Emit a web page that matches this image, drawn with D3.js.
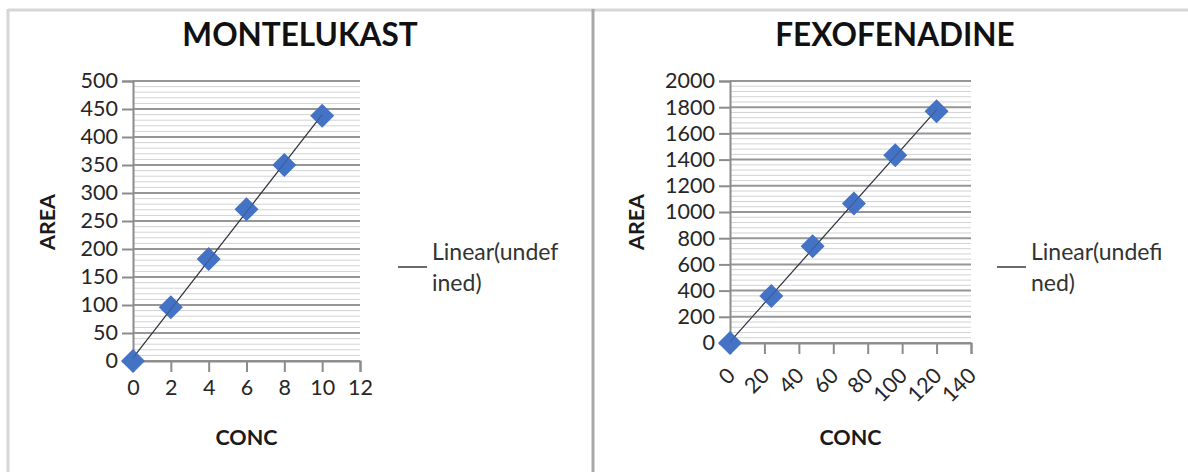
<!DOCTYPE html>
<html><head><meta charset="utf-8">
<script src="https://cdn.jsdelivr.net/npm/d3@7"></script>
<style>
body{margin:0;background:#fff}
svg text{font-family:Lato,"Open Sans","DejaVu Sans",sans-serif}
</style>
</head><body>
<svg id="c" width="1188" height="472"></svg>
<script>
// ---- data ----
const montConc = [0, 2, 4, 6, 8, 10];
const montArea = [0, 96, 182, 271, 350, 438];
const montYTicks = [0, 50, 100, 150, 200, 250, 300, 350, 400, 450, 500];
const montXTicks = [0, 2, 4, 6, 8, 10, 12];

const fexoConc = [0, 24, 48, 72, 96, 120];
const fexoArea = [0, 359, 739, 1065, 1434, 1770];
const fexoYTicks = [0, 200, 400, 600, 800, 1000, 1200, 1400, 1600, 1800, 2000];
const fexoXTicks = [0, 20, 40, 60, 80, 100, 120, 140];

const chartTitles = ["MONTELUKAST", "FEXOFENADINE"];
const legendLabels = [["Linear(undef", "ined)"], ["Linear(undefi", "ned)"]];
const xAxisTitle = "CONC";
const yAxisTitle = "AREA";

// ---- layout ----
const panels = [
  {title: chartTitles[0], xs: montConc, ys: montArea, yTicks: montYTicks, xTicks: montXTicks,
   minor: 10, left: 133, right: 360, top: 81, bottom: 361, titleX: 300, areaX: 48,
   legX: 398, rotate: false, legend: legendLabels[0]},
  {title: chartTitles[1], xs: fexoConc, ys: fexoArea, yTicks: fexoYTicks, xTicks: fexoXTicks,
   minor: 40, left: 730, right: 971, top: 81, bottom: 343, titleX: 895, areaX: 637,
   legX: 997, rotate: true, legend: legendLabels[1]}
];

const svg = d3.select("#c");

// frames
svg.append("line").attr("x1", 8).attr("x2", 1188).attr("y1", 10).attr("y2", 10)
  .attr("stroke", "#d6d6d6").attr("stroke-width", 3);
svg.append("line").attr("x1", 8).attr("x2", 8).attr("y1", 9).attr("y2", 472)
  .attr("stroke", "#d6d6d6").attr("stroke-width", 3);
svg.append("line").attr("x1", 593).attr("x2", 593).attr("y1", 9).attr("y2", 472)
  .attr("stroke", "#a8a8a8").attr("stroke-width", 3);

const diamond = "M0,-12L12,0L0,12L-12,0Z";

panels.forEach(p => {
  const xMax = p.xTicks[p.xTicks.length - 1];
  const yMax = p.yTicks[p.yTicks.length - 1];
  const x = d3.scaleLinear().domain([0, xMax]).range([p.left, p.right]);
  const y = d3.scaleLinear().domain([0, yMax]).range([p.bottom, p.top]);
  const g = svg.append("g");

  // minor gridlines
  const minorTicks = d3.range(0, yMax + 1e-9, p.minor).filter(v => !p.yTicks.includes(v));
  g.append("g").selectAll("line").data(minorTicks).join("line")
    .attr("x1", p.left).attr("x2", p.right)
    .attr("y1", d => y(d)).attr("y2", d => y(d))
    .attr("stroke", "#d2d2d2").attr("stroke-width", 1);

  // major gridlines
  g.append("g").selectAll("line").data(p.yTicks).join("line")
    .attr("x1", p.left).attr("x2", p.right)
    .attr("y1", d => y(d)).attr("y2", d => y(d))
    .attr("stroke", "#969696").attr("stroke-width", 2);

  // y axis
  const ya = g.append("g").attr("transform", `translate(${p.left},0)`)
    .call(d3.axisLeft(y).tickValues(p.yTicks).tickSize(11).tickPadding(4).tickFormat(d3.format("d")));
  ya.select(".domain").attr("stroke", "#8c8c8c").attr("stroke-width", 2);
  ya.selectAll(".tick line").attr("stroke", "#8c8c8c").attr("stroke-width", 2);
  ya.selectAll(".tick text").attr("font-size", 21.5).attr("fill", "#262626")
    .attr("font-family", "Lato, 'Open Sans', sans-serif");

  // x axis
  const xa = g.append("g").attr("transform", `translate(0,${p.bottom})`)
    .call(d3.axisBottom(x).tickValues(p.xTicks).tickSize(11).tickPadding(8).tickFormat(d3.format("d")));
  xa.select(".domain").attr("stroke", "#8c8c8c").attr("stroke-width", 2);
  xa.selectAll(".tick line").attr("stroke", "#8c8c8c").attr("stroke-width", 2);
  const xt = xa.selectAll(".tick text").attr("font-size", 21.5).attr("fill", "#262626")
    .attr("font-family", "Lato, 'Open Sans', sans-serif");
  if (p.rotate) {
    xt.attr("text-anchor", "end").attr("dy", null).attr("y", 0)
      .attr("transform", "translate(6,34) rotate(-45)");
  }

  // trendline (least squares)
  const mx = d3.mean(p.xs), my = d3.mean(p.ys);
  const slope = d3.sum(p.xs.map((v, i) => (v - mx) * (p.ys[i] - my))) /
                d3.sum(p.xs.map(v => (v - mx) * (v - mx)));
  const icpt = my - slope * mx;
  const x0 = d3.min(p.xs), x1 = d3.max(p.xs);
  g.append("line")
    .attr("x1", x(x0)).attr("y1", y(icpt + slope * x0))
    .attr("x2", x(x1)).attr("y2", y(icpt + slope * x1))
    .attr("stroke", "#3a3a3a").attr("stroke-width", 1.2);

  // markers
  g.append("g").selectAll("path").data(p.xs.map((v, i) => [v, p.ys[i]])).join("path")
    .attr("d", diamond)
    .attr("transform", d => `translate(${x(d[0])},${y(d[1])})`)
    .attr("fill", "#4472c4");

  // trendline redrawn lightly over markers
  g.append("line")
    .attr("x1", x(x0)).attr("y1", y(icpt + slope * x0))
    .attr("x2", x(x1)).attr("y2", y(icpt + slope * x1))
    .attr("stroke", "#2a3a5a").attr("stroke-width", 0.8).attr("opacity", 0.6);

  // titles
  svg.append("text").attr("x", p.titleX).attr("y", 46).attr("text-anchor", "middle")
    .attr("font-size", 31.5).attr("font-weight", "bold").attr("fill", "#111").text(p.title);
  svg.append("text").attr("x", (p.left + p.right) / 2).attr("y", 445).attr("text-anchor", "middle")
    .attr("font-size", 21.5).attr("font-weight", "bold").attr("fill", "#1a1a1a").text(xAxisTitle);
  svg.append("text").attr("transform", `translate(${p.areaX + 7},222) rotate(-90)`)
    .attr("text-anchor", "middle")
    .attr("font-size", 21.5).attr("font-weight", "bold").attr("fill", "#1a1a1a").text(yAxisTitle);

  // legend
  svg.append("line").attr("x1", p.legX).attr("x2", p.legX + 29).attr("y1", 267).attr("y2", 267)
    .attr("stroke", "#3a3a3a").attr("stroke-width", 1.5);
  const lt = svg.append("text").attr("x", p.legX + 34).attr("y", 260)
    .attr("font-size", 23).attr("fill", "#333");
  p.legend.forEach((s, i) => {
    lt.append("tspan").attr("x", p.legX + 34).attr("dy", i === 0 ? 0 : 31).text(s);
  });
});
</script>
</body></html>
